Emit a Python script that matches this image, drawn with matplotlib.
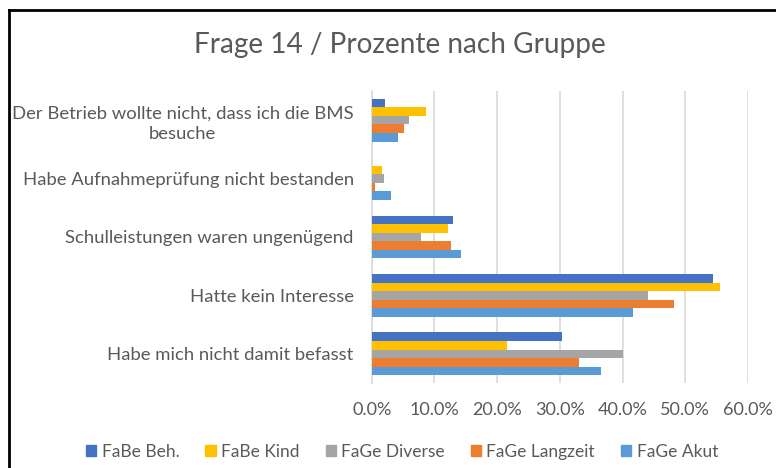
import matplotlib
matplotlib.use("Agg")
import matplotlib.pyplot as plt
from matplotlib.ticker import FuncFormatter, MultipleLocator
from matplotlib.lines import Line2D
import numpy as np

plt.rcParams['font.family'] = ['Lato', 'DejaVu Sans']

categories = [
    "Der Betrieb wollte nicht, dass ich die BMS\nbesuche",
    "Habe Aufnahmeprüfung nicht bestanden",
    "Schulleistungen waren ungenügend",
    "Hatte kein Interesse",
    "Habe mich nicht damit befasst",
]
series_names = ["FaBe Beh.", "FaBe Kind", "FaGe Diverse", "FaGe Langzeit", "FaGe Akut"]
fabe_beh = [2.1, 0.0, 12.9, 54.4, 30.3]
fabe_kind = [8.7, 1.6, 12.1, 55.6, 21.6]
fage_diverse = [6.0, 1.9, 7.9, 44.0, 40.1]
fage_langzeit = [5.2, 0.5, 12.7, 48.2, 33.0]
fage_akut = [4.2, 3.1, 14.3, 41.6, 36.6]
series_values = [fabe_beh, fabe_kind, fage_diverse, fage_langzeit, fage_akut]
colors = ["#4472C4", "#FFC000", "#A5A5A5", "#ED7D31", "#5B9BD5"]
title = "Frage 14 / Prozente nach Gruppe"

W, H = 776, 468
fig = plt.figure(figsize=(W / 100, H / 100), dpi=100)
ax = fig.add_axes([371.7 / W, 1 - 383 / H, (748 - 371.7) / W, (383 - 91) / H])

text_color = "#595959"
n = len(series_names)
bar_h = 0.147
y = np.arange(len(categories))
for i, (name, vals, c) in enumerate(zip(series_names, series_values, colors)):
    offs = (i - (n - 1) / 2) * bar_h
    ax.barh(y + offs, vals, height=bar_h, color=c, label=name, zorder=3)

ax.set_ylim(len(categories) - 0.5, -0.5)
ax.set_xlim(0, 60)
ax.xaxis.set_major_locator(MultipleLocator(10))
ax.xaxis.set_major_formatter(FuncFormatter(lambda v, p: f"{v:.1f}%"))
ax.grid(axis='x', color="#D9D9D9", linewidth=1.2, zorder=0)
ax.set_yticks(y)
ax.set_yticklabels(categories, multialignment='center', linespacing=1.35)
for s in ['top', 'right', 'bottom']:
    ax.spines[s].set_visible(False)
ax.spines['left'].set_color("#D9D9D9")
ax.spines['left'].set_linewidth(1.2)
ax.tick_params(axis='both', length=0, colors=text_color)
ax.tick_params(axis='y', pad=13, labelsize=13.3)
ax.tick_params(axis='x', pad=14, labelsize=13)

fig.text(400 / W, 1 - 45 / H, title, ha='center', va='center', fontsize=20.2, color=text_color)

handles = [plt.Rectangle((0, 0), 1, 1, color=c) for c in colors]
leg = fig.legend(handles, series_names, loc='center', bbox_to_anchor=(402 / W, 1 - 452 / H),
                 ncol=5, frameon=False, fontsize=12.5, handlelength=0.6, handleheight=0.6,
                 handletextpad=0.3, columnspacing=1.5, labelcolor=text_color)

# chart border (left and top edges visible)
fig.add_artist(Line2D([9 / W, 9 / W], [0, 1 - 10 / H], color='black', linewidth=2,
                      transform=fig.transFigure, solid_capstyle='projecting'))
fig.add_artist(Line2D([9 / W, 1], [1 - 10 / H, 1 - 10 / H], color='black', linewidth=2,
                      transform=fig.transFigure, solid_capstyle='projecting'))

fig.savefig("out.png", dpi=100)
